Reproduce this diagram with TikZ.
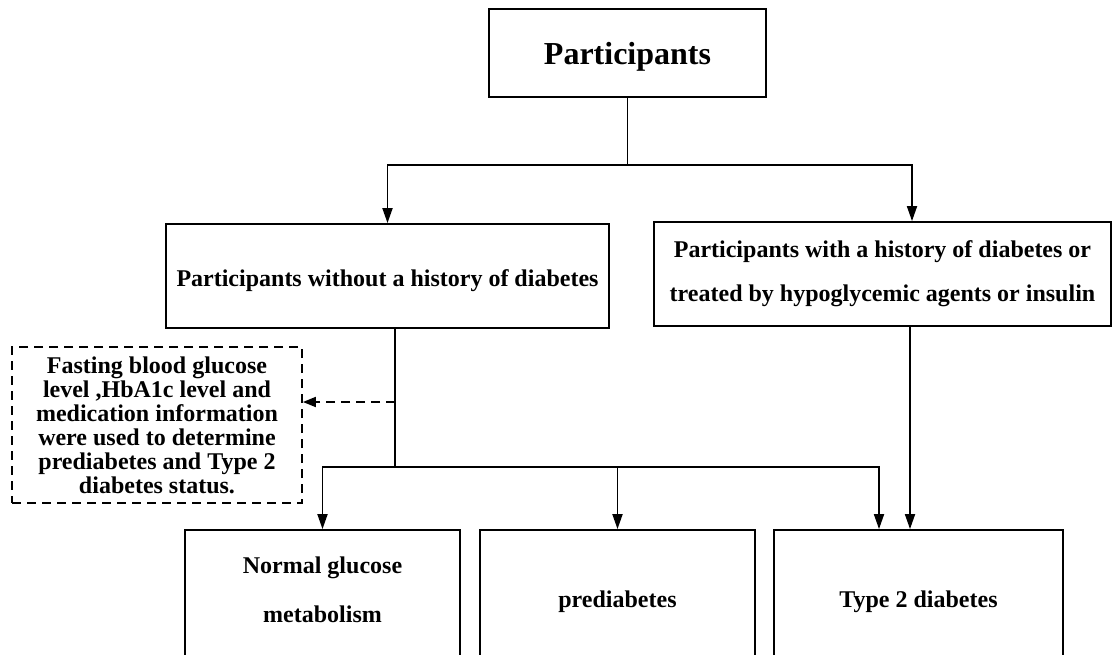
\documentclass[tikz,border=0pt]{standalone}
\usepackage{fontspec}
\setmainfont{Liberation Serif}
\usetikzlibrary{arrows.meta}
\begin{document}
\begin{tikzpicture}[x=1pt,y=-1pt,
  box/.style={draw, line width=1.8pt, rectangle, inner sep=0pt, align=center, font=\bfseries\fontsize{24}{28}\selectfont},
  dbox/.style={draw, line width=1.8pt, dash pattern=on 9pt off 6pt, rectangle, inner sep=0pt, align=center, font=\bfseries\fontsize{24}{24}\selectfont},
  lbl/.style={inner sep=0pt, align=center, font=\bfseries\fontsize{24}{28}\selectfont},
  ln/.style={line width=1.8pt},
  arr/.style={line width=1.8pt, -{Triangle[width=10pt,length=15pt]}},
  darr/.style={line width=1.8pt, dash pattern=on 9pt off 6pt, -{Triangle[width=10pt,length=13pt]}}
]
\useasboundingbox (0,0) rectangle (1113,655);
\clip (0,0) rectangle (1113,655);
\node[box, minimum width=277, minimum height=88] (top) at (627.5,53) {};
\node[lbl, font=\bfseries\fontsize{32}{36}\selectfont] (topt) at (627.5,57) {Participants};
\node[box, minimum width=443, minimum height=104] (left) at (387.5,276) {};
\node[lbl] (leftt) at (387.5,281) {Participants without a history of diabetes};
\node[box, minimum width=457, minimum height=104, font=\bfseries\fontsize{24}{44}\selectfont] (right) at (882.5,274) {Participants with a history of diabetes or\\treated by hypoglycemic agents or insulin};
\node[dbox, minimum width=290, minimum height=156] (dash) at (157,425) {Fasting blood glucose\\level ,HbA1c level and\\medication information\\were used to determine\\prediabetes and Type 2\\diabetes status.};
\node[box, minimum width=275, minimum height=144] (b1) at (322.5,602) {};
\node[lbl, font=\bfseries\fontsize{24}{49}\selectfont] (b1t) at (322.5,590) {Normal glucose\\metabolism};
\node[box, minimum width=275, minimum height=144] (b2) at (617.5,602) {prediabetes};
\node[box, minimum width=289, minimum height=144] (b3) at (918.5,602) {Type 2 diabetes};
\coordinate (j1) at (627.5,165);
\coordinate (j2) at (395,467);
\coordinate (jd) at (395,402);
\draw[ln] (top.south) -- (j1);
\draw[arr] (j1) -| (left.north);
\draw[arr] (j1) -| ([xshift=29.5pt]right.north);
\draw[ln] (left.south -| j2) -- (j2);
\draw[darr] (jd) -- (dash.east |- jd);
\draw[arr] (j2) -| (b1.north);
\draw[arr] (j2 -| b2.north) -- (b2.north);
\draw[arr] (j2) -| ([xshift=-39.5pt]b3.north);
\draw[arr] ([xshift=27.5pt]right.south) -- ([xshift=-8.5pt]b3.north);
\end{tikzpicture}
\end{document}
